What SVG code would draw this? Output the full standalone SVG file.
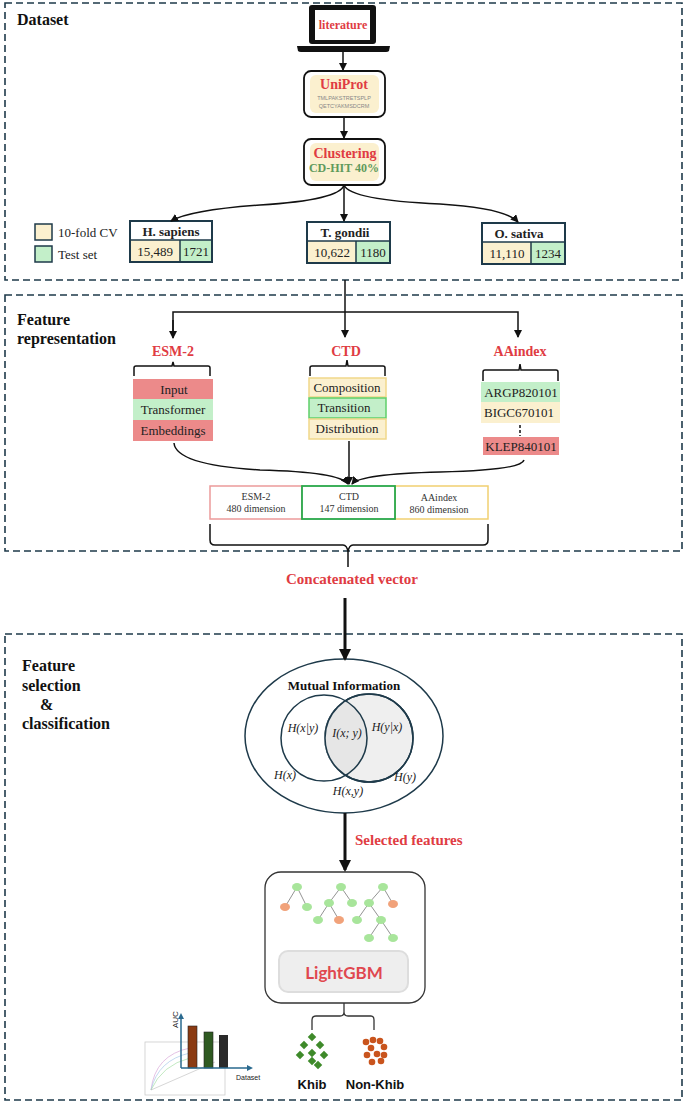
<svg xmlns="http://www.w3.org/2000/svg" width="685" height="1102" viewBox="0 0 685 1102">
<defs>
<marker id="ah" markerWidth="8" markerHeight="8" refX="7" refY="4" orient="auto" markerUnits="userSpaceOnUse"><path d="M0,0 L8,4 L0,8 Z" fill="#111"/></marker>
<marker id="ahb" markerWidth="12" markerHeight="12" refX="10" refY="6" orient="auto" markerUnits="userSpaceOnUse"><path d="M0,0 L12,6 L0,12 Z" fill="#111"/></marker>
</defs>
<style>
.sec{fill:none;stroke:#1e3a4a;stroke-width:1.6;stroke-dasharray:7,4}
.ttl{font-family:"Liberation Serif",serif;font-weight:bold;font-size:16px;fill:#111}
.red{font-family:"Liberation Serif",serif;font-weight:bold;fill:#e03c43}
.t{font-family:"Liberation Serif",serif;font-size:13px;fill:#222}
.sm{font-family:"Liberation Serif",serif;font-size:10px;fill:#333}
.m{font-family:"Liberation Serif",serif;font-style:italic;font-size:12px;fill:#222}
.ln{fill:none;stroke:#111;stroke-width:1.5}
.cream{fill:#fbf0cf}
.green{fill:#c3efc9}
.pink{fill:#ec8a8a}
.sp{fill:#fff;stroke:#1e3a4a;stroke-width:2}
.tg{fill:#a8e59b}
.to{fill:#f1a27a}
.te{stroke:#777;stroke-width:0.8}
</style>
<rect width="685" height="1102" fill="#fff"/>
<rect class="sec" x="5" y="3" width="677" height="277"/>
<rect class="sec" x="5" y="295" width="677" height="256"/>
<rect class="sec" x="5" y="634" width="677" height="466"/>
<text class="ttl" x="17" y="25">Dataset</text>
<text class="ttl" x="17" y="325">Feature</text>
<text class="ttl" x="17" y="344">representation</text>
<text class="ttl" x="22" y="671">Feature</text>
<text class="ttl" x="22" y="691">selection</text>
<text class="ttl" x="40" y="710">&amp;</text>
<text class="ttl" x="22" y="729">classification</text>

<g id="laptop">
<rect x="309" y="5" width="67" height="39" rx="3" fill="#111"/>
<rect x="315" y="10" width="55" height="30" fill="#fff"/>
<path d="M297,46 L390,46 L389,51 Q388,52 386,52 L301,52 Q299,52 298,51 Z" fill="#111"/>
<text class="red" x="343" y="29" font-size="12" text-anchor="middle">literature</text>
</g>
<g id="uniprot">
<rect x="304" y="71" width="81" height="46" rx="7" fill="#fff" stroke="#111" stroke-width="1.8"/>
<rect x="310" y="75" width="69" height="38" rx="6" class="cream"/>
<text class="red" x="344" y="89" font-size="14" text-anchor="middle">UniProt</text>
<text x="344" y="100" font-family="Liberation Sans,sans-serif" font-size="5.5" fill="#888" text-anchor="middle">TMLPAKSTRETSPLP</text>
<text x="344" y="108" font-family="Liberation Sans,sans-serif" font-size="5.5" fill="#888" text-anchor="middle">QETCYAKMSDCRM</text>
</g>
<g id="clustering">
<rect x="304" y="139" width="81" height="46" rx="7" fill="#fff" stroke="#111" stroke-width="1.8"/>
<rect x="310" y="143" width="69" height="38" rx="6" class="cream"/>
<text class="red" x="345" y="158" font-size="14" text-anchor="middle">Clustering</text>
<text x="344" y="172" font-family="Liberation Serif,serif" font-weight="bold" font-size="12" fill="#5f9a5c" text-anchor="middle">CD-HIT 40%</text>
</g>
<g id="legend">
<rect x="35" y="224" width="17" height="16" class="cream" stroke="#1e3a4a" stroke-width="1.5"/>
<rect x="35" y="246" width="17" height="16" class="green" stroke="#1e3a4a" stroke-width="1.5"/>
<text class="t" x="58" y="237">10-fold CV</text>
<text class="t" x="58" y="259">Test set</text>
</g>
<g id="hsapiens">
<rect x="130" y="221" width="82" height="41" class="sp"/>
<rect x="131" y="240" width="49" height="21" class="cream"/><rect x="180" y="240" width="31" height="21" class="green"/>
<line x1="130" y1="240" x2="212" y2="240" stroke="#1e3a4a" stroke-width="1.5"/><line x1="180" y1="240" x2="180" y2="262" stroke="#1e3a4a" stroke-width="1.5"/>
<text class="t" x="171" y="236" font-weight="bold" text-anchor="middle">H. sapiens</text>
<text class="t" x="155" y="256" text-anchor="middle">15,489</text><text class="t" x="196" y="256" text-anchor="middle">1721</text>
</g>
<g id="tgondii">
<rect x="307" y="222" width="83" height="41" class="sp"/>
<rect x="308" y="241" width="48" height="21" class="cream"/><rect x="356" y="241" width="33" height="21" class="green"/>
<line x1="307" y1="241" x2="390" y2="241" stroke="#1e3a4a" stroke-width="1.5"/><line x1="356" y1="241" x2="356" y2="263" stroke="#1e3a4a" stroke-width="1.5"/>
<text class="t" x="345" y="237" font-weight="bold" text-anchor="middle">T. gondii</text>
<text class="t" x="332" y="257" text-anchor="middle">10,622</text><text class="t" x="373" y="257" text-anchor="middle">1180</text>
</g>
<g id="osativa">
<rect x="482" y="223" width="83" height="41" class="sp"/>
<rect x="483" y="242" width="48" height="21" class="cream"/><rect x="531" y="242" width="33" height="21" class="green"/>
<line x1="482" y1="242" x2="565" y2="242" stroke="#1e3a4a" stroke-width="1.5"/><line x1="531" y1="242" x2="531" y2="264" stroke="#1e3a4a" stroke-width="1.5"/>
<text class="t" x="519" y="238" font-weight="bold" text-anchor="middle">O. sativa</text>
<text class="t" x="507" y="258" text-anchor="middle">11,110</text><text class="t" x="548" y="258" text-anchor="middle">1234</text>
</g>

<g id="esm2">
<text class="red" x="173" y="356" font-size="14" text-anchor="middle">ESM-2</text>
<path class="ln" d="M134,376 L134,368 Q134,366 136,366 L172,366 L173,362 L174,366 L208,366 Q210,366 210,368 L210,376"/>
<rect x="133" y="379" width="80" height="20" class="pink"/>
<rect x="133" y="399" width="80" height="21" class="green"/>
<rect x="133" y="420" width="80" height="21" class="pink"/>
<text class="t" x="174" y="394" text-anchor="middle">Input</text>
<text class="t" x="173" y="414" text-anchor="middle">Transformer</text>
<text class="t" x="173" y="435" text-anchor="middle">Embeddings</text>
</g>
<g id="ctd">
<text class="red" x="346" y="356" font-size="14" text-anchor="middle">CTD</text>
<path class="ln" d="M310,376 L310,368 Q310,366 312,366 L346,366 L347,360 L348,366 L383,366 Q385,366 385,368 L385,376"/>
<rect x="309" y="378" width="77" height="19" class="cream" stroke="#f1d88a" stroke-width="1.5"/>
<rect x="309" y="398" width="77" height="20" class="green" stroke="#5fcf6a" stroke-width="1.5"/>
<rect x="309" y="419" width="77" height="20" class="cream" stroke="#f1d88a" stroke-width="1.5"/>
<text class="t" x="347" y="392" text-anchor="middle">Composition</text>
<text class="t" x="344" y="412" text-anchor="middle">Transition</text>
<text class="t" x="347" y="433" text-anchor="middle">Distribution</text>
</g>
<g id="aaindex">
<text class="red" x="520" y="356" font-size="14" text-anchor="middle">AAindex</text>
<path class="ln" d="M483,381 L483,372 Q483,370 485,370 L519,370 L520,364 L521,370 L556,370 Q558,370 558,372 L558,381"/>
<rect x="481" y="382" width="79" height="20" class="green"/>
<rect x="481" y="402" width="79" height="21" class="cream"/>
<rect x="483" y="437" width="76" height="18" class="pink"/>
<line x1="520" y1="425" x2="520" y2="436" stroke="#111" stroke-width="1.5" stroke-dasharray="3,2"/>
<text class="t" x="521" y="397" text-anchor="middle">ARGP820101</text>
<text class="t" x="519" y="417" text-anchor="middle">BIGC670101</text>
<text class="t" x="521" y="451" text-anchor="middle">KLEP840101</text>
</g>
<g id="vector">
<rect x="210" y="486" width="92" height="33" fill="#fff" stroke="#ec9a9a" stroke-width="1.5"/>
<rect x="395" y="486" width="93" height="33" fill="#fff" stroke="#f1d070" stroke-width="1.5"/>
<rect x="302" y="486" width="93" height="33" fill="#fff" stroke="#2aa84a" stroke-width="1.8"/>
<text class="sm" x="256" y="500" text-anchor="middle">ESM-2</text><text class="sm" x="256" y="512" text-anchor="middle">480 dimension</text>
<text class="sm" x="349" y="500" text-anchor="middle">CTD</text><text class="sm" x="349" y="512" text-anchor="middle">147 dimension</text>
<text class="sm" x="439" y="501" text-anchor="middle">AAindex</text><text class="sm" x="439" y="513" text-anchor="middle">860 dimension</text>
<path class="ln" d="M210,524 L210,540 Q210,545 215,545 L343,545 Q347,545 348,552 Q349,545 353,545 L483,545 Q488,545 488,540 L488,524 M348,552 L348,567"/>
<text class="red" x="352" y="584" font-size="15" text-anchor="middle">Concatenated vector</text>
</g>

<g id="mi">
<ellipse cx="344" cy="736" rx="99" ry="77" fill="#fff" stroke="#1e3a4a" stroke-width="1.5"/>
<circle cx="369" cy="738" r="44" fill="#efefef" stroke="#1e3a4a" stroke-width="1.5"/>
<path d="M346,700 A44,44 0 0 1 346,776 A44,44 0 0 1 346,700 Z" fill="#e6e6e6"/>
<circle cx="324" cy="738" r="43" fill="none" stroke="#1e3a4a" stroke-width="1.5"/>
<circle cx="369" cy="738" r="44" fill="none" stroke="#1e3a4a" stroke-width="1.5"/>
<text class="ttl" x="344" y="690" style="font-size:13px" text-anchor="middle">Mutual Information</text>
<text class="m" x="303" y="732" text-anchor="middle">H(x|y)</text>
<text class="m" x="347" y="737" text-anchor="middle">I(x; y)</text>
<text class="m" x="387" y="731" text-anchor="middle">H(y|x)</text>
<text class="m" x="285" y="779" text-anchor="middle">H(x)</text>
<text class="m" x="405" y="781" text-anchor="middle">H(y)</text>
<text class="m" x="348" y="795" text-anchor="middle">H(x,y)</text>
</g>
<text class="red" x="355" y="845" font-size="15">Selected features</text>

<g id="lightgbm">
<rect x="265" y="872" width="160" height="131" rx="16" fill="#fff" stroke="#333" stroke-width="1.3"/>
<rect x="279" y="951" width="129" height="41" rx="9" fill="#eee" stroke="#ddd" stroke-width="2"/>
<text x="344" y="979" font-family="Lato,sans-serif" font-weight="bold" font-size="17" fill="#e0474f" text-anchor="middle">LightGBM</text>
<g class="te">
<line x1="297" y1="887" x2="285" y2="907"/><line x1="297" y1="887" x2="307" y2="907"/>
<line x1="341" y1="887" x2="329" y2="903"/><line x1="341" y1="887" x2="352" y2="903"/>
<line x1="329" y1="903" x2="318" y2="920"/><line x1="329" y1="903" x2="339" y2="920"/>
<line x1="383" y1="887" x2="369" y2="903"/><line x1="383" y1="887" x2="393" y2="904"/>
<line x1="369" y1="903" x2="357" y2="920"/><line x1="369" y1="903" x2="381" y2="920"/>
<line x1="381" y1="920" x2="369" y2="938"/><line x1="381" y1="920" x2="393" y2="938"/>
</g>
<ellipse class="tg" cx="297" cy="887" rx="5" ry="4"/><ellipse class="to" cx="285" cy="907" rx="5" ry="4"/><ellipse class="tg" cx="307" cy="907" rx="5" ry="4"/>
<ellipse class="tg" cx="341" cy="887" rx="5" ry="4"/><ellipse class="tg" cx="329" cy="903" rx="5" ry="4"/><ellipse class="tg" cx="352" cy="903" rx="5" ry="4"/>
<ellipse class="tg" cx="318" cy="920" rx="5" ry="4"/><ellipse class="to" cx="339" cy="920" rx="5" ry="4"/>
<ellipse class="tg" cx="383" cy="887" rx="5" ry="4"/><ellipse class="tg" cx="369" cy="903" rx="5" ry="4"/><ellipse class="to" cx="393" cy="904" rx="5" ry="4"/>
<ellipse class="tg" cx="357" cy="920" rx="5" ry="4"/><ellipse class="tg" cx="381" cy="920" rx="5" ry="4"/>
<ellipse class="tg" cx="369" cy="938" rx="5" ry="4"/><ellipse class="tg" cx="393" cy="938" rx="5" ry="4"/>
</g>
<g id="outputs">
<path d="M344,1003 L344,1012 Q344,1016 340,1016 L316,1016 Q312,1016 312,1020 L312,1030 M344,1012 Q344,1016 348,1016 L371,1016 Q374,1016 374,1020 L374,1030" fill="none" stroke="#333" stroke-width="1.3"/>
<g fill="#3e8a2a">
<rect x="309" y="1034" width="6" height="6" transform="rotate(45 312 1037)"/>
<rect x="301" y="1042" width="6" height="6" transform="rotate(45 304 1045)"/>
<rect x="317" y="1042" width="6" height="6" transform="rotate(45 320 1045)"/>
<rect x="309" y="1050" width="6" height="6" transform="rotate(45 312 1053)"/>
<rect x="297" y="1052" width="6" height="6" transform="rotate(45 300 1055)"/>
<rect x="321" y="1052" width="6" height="6" transform="rotate(45 324 1055)"/>
<rect x="309" y="1058" width="6" height="6" transform="rotate(45 312 1061)"/>
<rect x="315" y="1062" width="6" height="6" transform="rotate(45 318 1065)"/>
</g>
<g fill="#c9541d">
<circle cx="366" cy="1042" r="3.3"/><circle cx="373" cy="1040" r="3.3"/><circle cx="380" cy="1041" r="3.3"/>
<circle cx="371" cy="1048" r="3.3"/><circle cx="384" cy="1047" r="3.3"/><circle cx="377" cy="1054" r="3.3"/>
<circle cx="367" cy="1055" r="3.3"/><circle cx="384" cy="1055" r="3.3"/><circle cx="372" cy="1062" r="3.3"/><circle cx="381" cy="1061" r="3.3"/>
</g>
<text x="312" y="1089" font-family="Liberation Sans,sans-serif" font-weight="bold" font-size="13" fill="#111" text-anchor="middle">Khib</text>
<text x="375" y="1089" font-family="Liberation Sans,sans-serif" font-weight="bold" font-size="13" fill="#111" text-anchor="middle">Non-Khib</text>
</g>
<g id="chart">
<rect x="145" y="1042" width="80" height="53" fill="#fff" stroke="#ccc" stroke-width="0.8"/>
<path d="M151,1090 Q155,1055 190,1048" fill="none" stroke="#d8a8d8" stroke-width="0.7"/>
<path d="M151,1090 Q158,1060 190,1053" fill="none" stroke="#a8c8e8" stroke-width="0.7"/>
<path d="M151,1090 Q162,1065 190,1058" fill="none" stroke="#a8e0a8" stroke-width="0.7"/>
<path d="M151,1090 L215,1062" fill="none" stroke="#bbb" stroke-width="0.6"/>
<rect x="188" y="1026" width="9" height="42" fill="#8a3a12" stroke="#222" stroke-width="0.6"/>
<rect x="204" y="1032" width="9" height="36" fill="#2f5a22" stroke="#222" stroke-width="0.6"/>
<rect x="219" y="1035" width="9" height="33" fill="#2a2a2a"/>
<path d="M181,1068 L181,1016 M181,1068 L250,1068" stroke="#2a6a8f" stroke-width="1.5" fill="none"/>
<path d="M181,1013 L178,1019 L184,1019 Z M253,1068 L247,1065 L247,1071 Z" fill="#2a6a8f"/>
<text x="178" y="1028" font-family="Liberation Sans,sans-serif" font-size="8" fill="#222" transform="rotate(-90 178 1028)">AUC</text>
<text x="236" y="1080" font-family="Liberation Sans,sans-serif" font-size="7" fill="#222">Dataset</text>
</g>

<g id="connectors">
<line class="ln" x1="343" y1="52" x2="343" y2="70" marker-end="url(#ah)"/>
<line class="ln" x1="344" y1="117" x2="344" y2="138" marker-end="url(#ah)"/>
<path class="ln" d="M344,185 Q340,200 260,205 Q190,210 171,221" marker-end="url(#ah)"/>
<line class="ln" x1="344" y1="185" x2="344" y2="221" marker-end="url(#ah)"/>
<path class="ln" d="M344,185 Q350,200 440,204 Q505,208 518,222" marker-end="url(#ah)"/>
<line class="ln" x1="345" y1="280" x2="345" y2="337" marker-end="url(#ah)"/>
<path class="ln" d="M173,337 L173,312 L518,312 L518,337" marker-end="url(#ah)"/>
<line class="ln" x1="173" y1="320" x2="173" y2="338" marker-end="url(#ah)"/>
<path class="ln" d="M174,443 Q176,465 260,470 Q340,472 348,484" marker-end="url(#ah)"/>
<line class="ln" x1="349" y1="441" x2="349" y2="484" marker-end="url(#ah)"/>
<path class="ln" d="M524,460 Q522,470 440,472 Q360,474 352,484" marker-end="url(#ah)"/>
<line x1="345" y1="598" x2="345" y2="659" stroke="#111" stroke-width="3" marker-end="url(#ahb)"/>
<line x1="345" y1="813" x2="345" y2="870" stroke="#111" stroke-width="3" marker-end="url(#ahb)"/>
</g>
</svg>
